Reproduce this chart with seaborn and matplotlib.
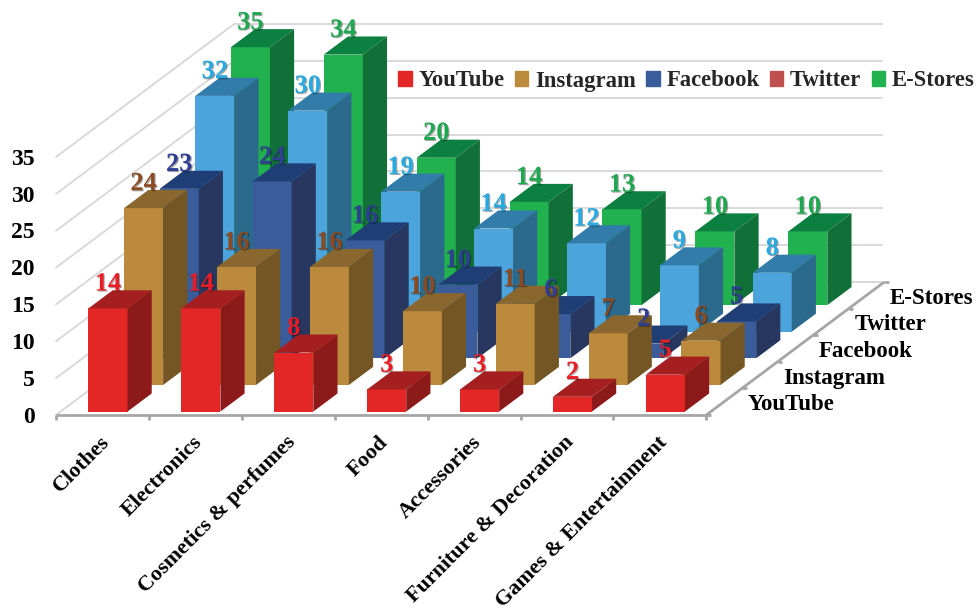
# 3D style clustered bars, oblique projection on a flat seaborn axes
import numpy as np
import seaborn as sns
import matplotlib.pyplot as plt
import matplotlib.patheffects as pe
from matplotlib.patches import Patch

categories = ["Clothes", "Electronics", "Cosmetics & perfumes", "Food", "Accessories",
              "Furniture & Decoration", "Games & Entertainment"]
series = ["YouTube", "Instagram", "Facebook", "Twitter", "E-Stores"]
youtube = [14, 14, 8, 3, 3, 2, 5]
instagram = [24, 16, 16, 10, 11, 7, 6]
facebook = [23, 24, 16, 10, 6, 2, 5]
twitter = [32, 30, 19, 14, 12, 9, 8]
estores = [35, 34, 20, 14, 13, 10, 10]
values = [youtube, instagram, facebook, twitter, estores]
y_ticks = [0, 5, 10, 15, 20, 25, 30, 35]

front_colors = ["#E32726", "#BC8A3C", "#3B5C9A", "#4CA4DD", "#22B14F"]
top_colors = ["#A51E20", "#8A672E", "#1F3E75", "#317CA9", "#0C8040"]
side_colors = ["#8D1A1A", "#745625", "#27375F", "#2C6A8D", "#107038"]
label_colors = ["#ED1C24", "#8B4A20", "#2E3F94", "#27AAE1", "#1DA84F"]
legend_colors = ["#E32726", "#BC8A3C", "#3B5C9A", "#C0504D", "#22B14F"]

sns.set_theme(style="white")
plt.rcParams["font.family"] = ["Liberation Serif", "DejaVu Serif"]
plt.rcParams["font.weight"] = "bold"

# pixel scale of the drawing
W, H = 977, 611
cat_px, unit_px = 92.9, 7.37
left_px, base_px = 56, 415
kx = 35.6 / cat_px      # sideways shift per series, in category units
kz = 26.6 / unit_px     # upward shift per series, in value units
bar_w = 0.42
front_gap = 0.13
bar_depth = 0.68
n_cat, n_ser = len(categories), len(series)

fig = plt.figure(figsize=(W / 100, H / 100), dpi=100)
ax = fig.add_axes([0, 0, 1, 1])

# walls
grid = dict(color="#D9D9D9", lw=1.4, zorder=0.5)
for z in y_ticks:
    ax.plot([0, kx * n_ser], [z, z + kz * n_ser], **grid)
    ax.plot([kx * n_ser, n_cat + kx * n_ser - 0.03], [z + kz * n_ser] * 2, **grid)

# bars, back series first
shadow = [pe.SimplePatchShadow(offset=(0.8, -0.8), shadow_rgbFace="black", alpha=0.35), pe.Normal()]
centers = np.arange(n_cat) + 0.51
for i in reversed(range(n_ser)):
    s0 = i + front_gap
    xs = centers + kx * s0
    sns.barplot(x=xs, y=values[i], native_scale=True, width=bar_w, bottom=kz * s0,
                color=front_colors[i], saturation=1, errorbar=None, linewidth=0, ax=ax)
    for x, v in zip(xs, values[i]):
        x0, x1 = x - bar_w / 2, x + bar_w / 2
        d_x, d_z = kx * bar_depth, kz * bar_depth
        ztop = v + kz * s0
        ax.fill([x0, x1, x1 + d_x, x0 + d_x], [ztop, ztop, ztop + d_z, ztop + d_z],
                color=top_colors[i], lw=0)
        ax.fill([x1, x1, x1 + d_x, x1 + d_x], [kz * s0, ztop, ztop + d_z, kz * s0 + d_z],
                color=side_colors[i], lw=0)
        ax.text(x, ztop + 3.3, str(v), color=label_colors[i], fontsize=19, ha="center",
                va="center", zorder=10, path_effects=shadow)

# front and right axis lines with ticks
axis = dict(color="#A6A6A6", lw=2, zorder=3, solid_capstyle="butt")
ax.plot([0, n_cat], [0, 0], **axis)
ax.plot([n_cat, n_cat + kx * n_ser], [0, kz * n_ser], **axis)
for c in range(n_cat + 1):
    ax.plot([c, c], [0, -0.7], **axis)
for i in range(n_ser + 1):
    ax.plot([n_cat + kx * i, n_cat + kx * i + 0.05], [kz * i, kz * i], **axis)

for z in y_ticks:
    ax.text(-0.23, z - 0.3, str(z), fontsize=17, ha="right", va="center", color="black")
for c, name in enumerate(categories):
    ax.text(c + 0.47, -2.35, name, fontsize=15.8, rotation=45, ha="right", va="top",
            rotation_mode="anchor", color="black")
for i, name in enumerate(series):
    ax.text(n_cat + kx * (i + 0.5) + 0.25, kz * (i + 0.5) - 0.4, name, fontsize=16.5,
            ha="left", va="center", color="black")

handles = [Patch(color=c, label=s) for c, s in zip(legend_colors, series)]
ax.legend(handles=handles, ncol=n_ser, frameon=False, fontsize=16.3, handlelength=0.6,
          handleheight=0.6, handletextpad=0.3, columnspacing=0.45, borderpad=0,
          borderaxespad=0, loc="center left", bbox_to_anchor=(398 / W, 1 - 81 / H))

ax.set_xlim(-left_px / cat_px, (W - left_px) / cat_px)
ax.set_ylim((base_px - H) / unit_px, base_px / unit_px)
ax.axis("off")

fig.savefig("out.png", dpi=100)
